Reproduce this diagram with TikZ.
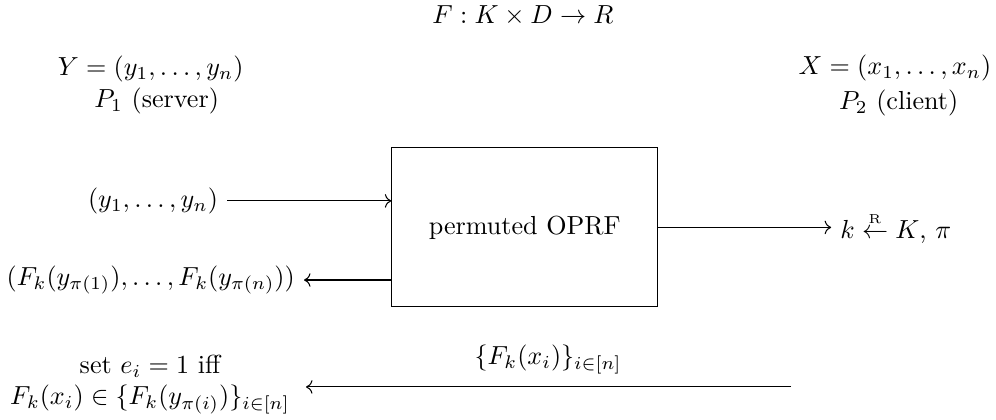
\documentclass[tikz,border=0pt]{standalone}
\usepackage{amsmath}
\usepackage{amssymb}
\usepackage{tikz}
\usetikzlibrary{arrows.meta, positioning, calc}

\begin{document}
\begin{tikzpicture}[
  box/.style={rectangle, draw, minimum width=3.58cm, minimum height=2.14cm},
  arrow/.style={->}
]
  \useasboundingbox (0,0) rectangle (13.41,-5.653);

  \node (func) at (7.04,-0.215) {$F : K \times D \to R$};
  \node (ylist) at (2.03,-0.93) {$Y = (y_1, \ldots, y_n)$};
  \node (xlist) at (12.05,-0.915) {$X = (x_1, \ldots, x_n)$};
  \node (server) at (2.11,-1.36) {$P_1$ (server)};
  \node (client) at (12.10,-1.39) {$P_2$ (client)};

  \node[box] (oprf) at (7.066,-3.062) {permuted OPRF};

  \node (yin) at (2.06,-2.705) {$(y_1, \ldots, y_n)$};
  \node (fout) at (2.03,-3.77) {$(F_k(y_{\pi(1)}), \ldots, F_k(y_{\pi(n)}))$};
  \node[anchor=west] (keys) at (11.19,-3.062) {$k \overset{\scriptscriptstyle\mathrm{R}}{\leftarrow} K$, $\pi$};

  \draw[arrow] (yin.east) -- (yin.east -| oprf.west);
  \draw[arrow] (fout.east -| oprf.west) -- (fout.east);
  \draw[arrow] (oprf.east) -- (keys.west);

  % client sends its PRF values back
  \node[align=center] (check) at (2.02,-5.18) {set $e_i = 1$ iff\\$F_k(x_i) \in \{F_k(y_{\pi(i)})\}_{i \in [n]}$};
  \coordinate (send) at (10.65,-5.21);
  \coordinate (recv) at (4.12,-5.21);
  \node (msg) at (7.38,-4.845) {$\{F_k(x_i)\}_{i \in [n]}$};
  \draw[arrow] (send) -- (recv);
\end{tikzpicture}
\end{document}
